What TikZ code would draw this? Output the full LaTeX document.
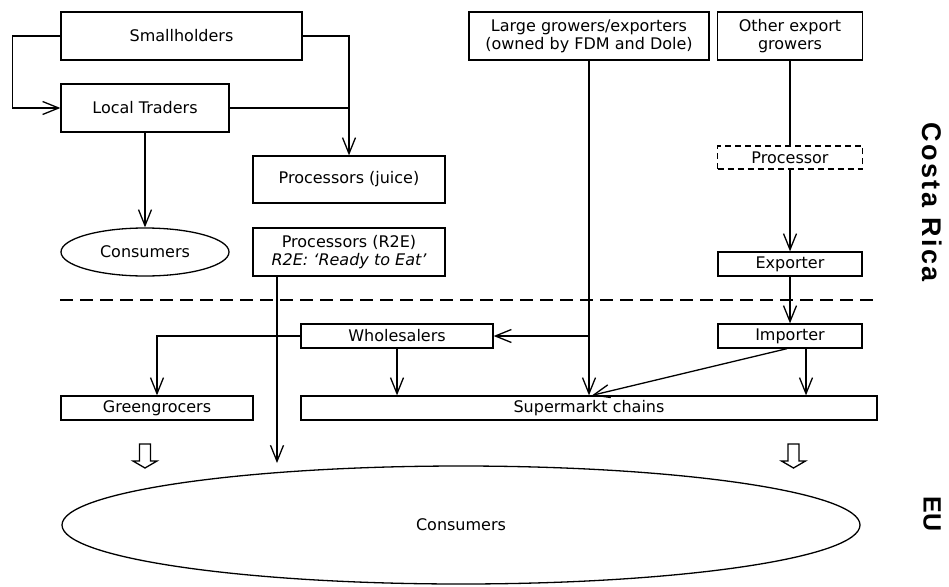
\documentclass[tikz,border=0pt]{standalone}
\usepackage{fontspec}
\setmainfont{DejaVu Sans}
\newfontfamily\regionfont{Liberation Sans}
\newfontfamily\regionspaced{Liberation Sans}[LetterSpace=9]
\usetikzlibrary{arrows.meta,shapes.geometric}

\begin{document}
\begin{tikzpicture}[x=1pt,y=-1pt,
  every node/.style={font=\fontsize{16}{18}\selectfont},
  box/.style={draw, line width=1.3pt, rectangle, inner sep=0pt, align=center},
  dashbox/.style={box, dash pattern=on 6pt off 4pt},
  oval/.style={draw, line width=1.3pt, ellipse, inner sep=0pt},
  link/.style={line width=1.3pt},
  arr/.style={link, -{Straight Barb[length=16pt,width=13pt,line width=1.3pt]}},
  hollow/.style={draw, line width=1.3pt, fill=white, line join=miter},
  region/.style={rotate=-90, inner sep=0pt}
]
\useasboundingbox (0,0) rectangle (949,586);

% Costa Rica side
\node[box, minimum width=241pt, minimum height=48pt] (small) at (181.5,36) {Smallholders};
\node[box, minimum width=168pt, minimum height=48pt] (local) at (145,108) {Local Traders};
\node[box, minimum width=192pt, minimum height=47pt] (juice) at (349,179.5) {Processors (juice)};
\node[oval, minimum width=168pt, minimum height=48pt] (cons1) at (145,252) {Consumers};
\node[box, minimum width=192pt, minimum height=48pt] (r2e) at (349,252)
  {Processors (R2E)\\\itshape R2E: ‘Ready to Eat’};
\node[box, minimum width=240pt, minimum height=48pt] (large) at (589,36)
  {Large growers/exporters\\(owned by FDM and Dole)};
\node[box, minimum width=145pt, minimum height=48pt] (other) at (790,36)
  {Other export\\growers};
\node[dashbox, minimum width=145pt, minimum height=23pt] (proc) at (790,157.5) {Processor};
\node[box, minimum width=144pt, minimum height=24pt] (exporter) at (790,264) {Exporter};

% border between the two regions
\coordinate (borderL) at (60,300);
\coordinate (borderR) at (878,300);
\draw[line width=1.3pt, dash pattern=on 13pt off 7pt] (borderL) -- (borderR);

% EU side
\node[box, minimum width=144pt, minimum height=24pt] (importer) at (790,336) {Importer};
\node[box, minimum width=192pt, minimum height=24pt] (wholesale) at (397,336) {Wholesalers};
\node[box, minimum width=192pt, minimum height=24pt] (green) at (157,408) {Greengrocers};
\node[box, minimum width=576pt, minimum height=24pt] (super) at (589,408) {Supermarkt chains};
\node[oval, minimum width=798pt, minimum height=118pt] (cons2) at (461,525) {Consumers};

% region labels
\node[region] (cr) at (932,202) {\regionspaced\fontsize{27}{27}\selectfont\bfseries Costa Rica};
\node[region] (eu) at (932,514) {\regionfont\fontsize{25}{25}\selectfont\bfseries EU};

% flows
\draw[arr] (small.west) -- ++(-48,0) |- (local.west);
\draw[arr] (small.east) -| (juice.north);
\draw[link] (local.east) -- (local.east -| juice.north);
\draw[arr] (local.south) -- (cons1.north);

\coordinate (r2eEnd) at (277,463);
\draw[arr] (r2eEnd |- r2e.south) -- (r2eEnd);

\draw[arr] (large.south) -- (super.north);
\draw[arr] (large.south |- wholesale.east) -- (wholesale.east);

\draw[link] (other.south) -- (proc.north);
\draw[arr] (proc.south) -- (exporter.north);
\draw[arr] (exporter.south) -- (importer.north);
\draw[arr] ([xshift=-3pt]importer.south) -- ([xshift=3pt]super.north);
\draw[arr] ([xshift=16pt]importer.south) -- ([xshift=16pt]importer.south |- super.north);

\draw[arr] (wholesale.west) -| (green.north);
\draw[arr] (wholesale.south) -- (wholesale.south |- super.north);

% open block arrows towards the consumers
\foreach \cx/\nm in {145/gArrow, 793.5/sArrow}{
  \coordinate (\nm) at (\cx,444);
  \draw[hollow] ([xshift=-5.5pt]\nm) -- ++(11,0) -- ++(0,17) -- ++(6.5,0)
    -- ++(-12,7) -- ++(-12,-7) -- ++(6.5,0) -- cycle;
}
\end{tikzpicture}
\end{document}
